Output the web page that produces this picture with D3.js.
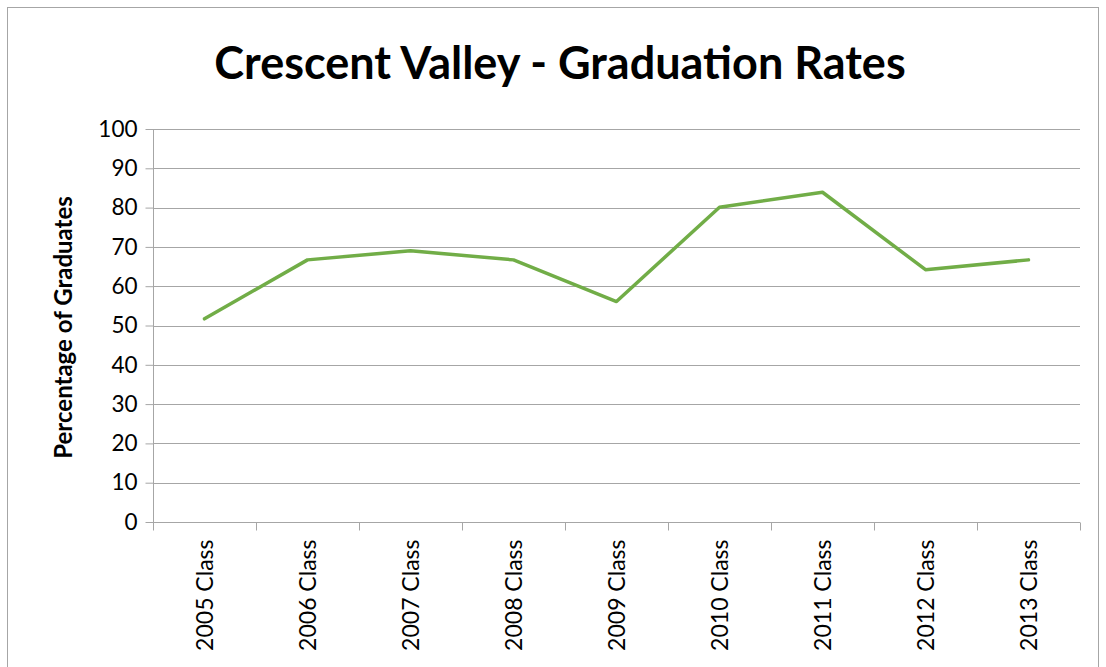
<!DOCTYPE html>
<html>
<head>
<meta charset="utf-8">
<script src="https://cdn.jsdelivr.net/npm/d3@7"></script>
<style>
  body { margin: 0; background: #fff; }
  svg { display: block; font-family: Lato, "Open Sans", sans-serif; }
</style>
</head>
<body>
<div id="chart"></div>
<script>
// data
const categories = ['2005 Class', '2006 Class', '2007 Class', '2008 Class', '2009 Class',
  '2010 Class', '2011 Class', '2012 Class', '2013 Class'];
const rates = [51.7, 66.7, 69.0, 66.7, 56.1, 80.1, 83.9, 64.2, 66.7];
const yTicks = [0, 10, 20, 30, 40, 50, 60, 70, 80, 90, 100];

const width = 1106;
const height = 667;
const margin = { top: 129, right: 26, bottom: 145, left: 153 };
const font = 'Lato, "Open Sans", sans-serif';

const svg = d3.select('#chart')
  .append('svg')
  .attr('width', width)
  .attr('height', height);

// chart frame
svg.append('rect')
  .attr('x', 7.5).attr('y', 7.5)
  .attr('width', width - 15).attr('height', height)
  .attr('fill', 'none')
  .attr('stroke', '#a6a6a6');

const xScale = d3.scaleBand().domain(categories).range([margin.left, width - margin.right]);
const yScale = d3.scaleLinear().domain([0, 100]).range([height - margin.bottom, margin.top]);

// gridlines
svg.append('g')
  .selectAll('line')
  .data(yTicks.filter(d => d > 0))
  .enter()
  .append('line')
  .attr('x1', margin.left)
  .attr('x2', width - margin.right)
  .attr('y1', d => Math.round(yScale(d)) + 0.5)
  .attr('y2', d => Math.round(yScale(d)) + 0.5)
  .attr('stroke', '#a6a6a6')
  .attr('stroke-width', 1.2);

// y axis
const yAxis = d3.axisLeft(yScale).tickValues(yTicks).tickSize(8).tickPadding(8);
const gy = svg.append('g')
  .attr('transform', `translate(${margin.left + 0.5}, 0)`)
  .call(yAxis)
  .attr('font-family', font);
gy.selectAll('.tick line').attr('stroke', '#a6a6a6');
gy.select('.domain').attr('stroke', '#a6a6a6').attr('d', `M0,${margin.top}V${height - margin.bottom}`);
gy.selectAll('text').attr('font-size', 22.5).attr('fill', '#000');

// x axis with band boundary ticks
const gx = svg.append('g')
  .attr('transform', `translate(0, ${Math.round(yScale(0)) + 0.5})`);
gx.append('line')
  .attr('x1', margin.left).attr('x2', width - margin.right)
  .attr('stroke', '#a6a6a6').attr('stroke-width', 1.2);
const bounds = categories.map(c => xScale(c)).concat([width - margin.right]);
gx.selectAll('.btick')
  .data(bounds)
  .enter()
  .append('line')
  .attr('x1', d => Math.round(d) + 0.5)
  .attr('x2', d => Math.round(d) + 0.5)
  .attr('y1', 0).attr('y2', 8)
  .attr('stroke', '#a6a6a6');
gx.selectAll('text')
  .data(categories)
  .enter()
  .append('text')
  .attr('transform', d => `translate(${xScale(d) + xScale.bandwidth() / 2 + 8}, 17) rotate(-90)`)
  .attr('text-anchor', 'end')
  .attr('font-size', 23)
  .attr('fill', '#000')
  .text(d => d);

// title
svg.append('text')
  .attr('x', 560).attr('y', 79)
  .attr('text-anchor', 'middle')
  .attr('font-size', 45)
  .attr('font-weight', 'bold')
  .text('Crescent Valley - Graduation Rates');

// y axis title
svg.append('text')
  .attr('transform', `translate(72, ${(margin.top + height - margin.bottom) / 2 + 2}) rotate(-90)`)
  .attr('text-anchor', 'middle')
  .attr('font-size', 24)
  .attr('font-weight', 'bold')
  .text('Percentage of Graduates');

// line
const line = d3.line()
  .x((d, i) => xScale(categories[i]) + xScale.bandwidth() / 2)
  .y(d => yScale(d));

svg.append('path')
  .attr('d', line(rates))
  .attr('fill', 'none')
  .attr('stroke', '#71ad47')
  .attr('stroke-width', 3.5)
  .attr('stroke-linejoin', 'round')
  .attr('stroke-linecap', 'round');
</script>
</body>
</html>
